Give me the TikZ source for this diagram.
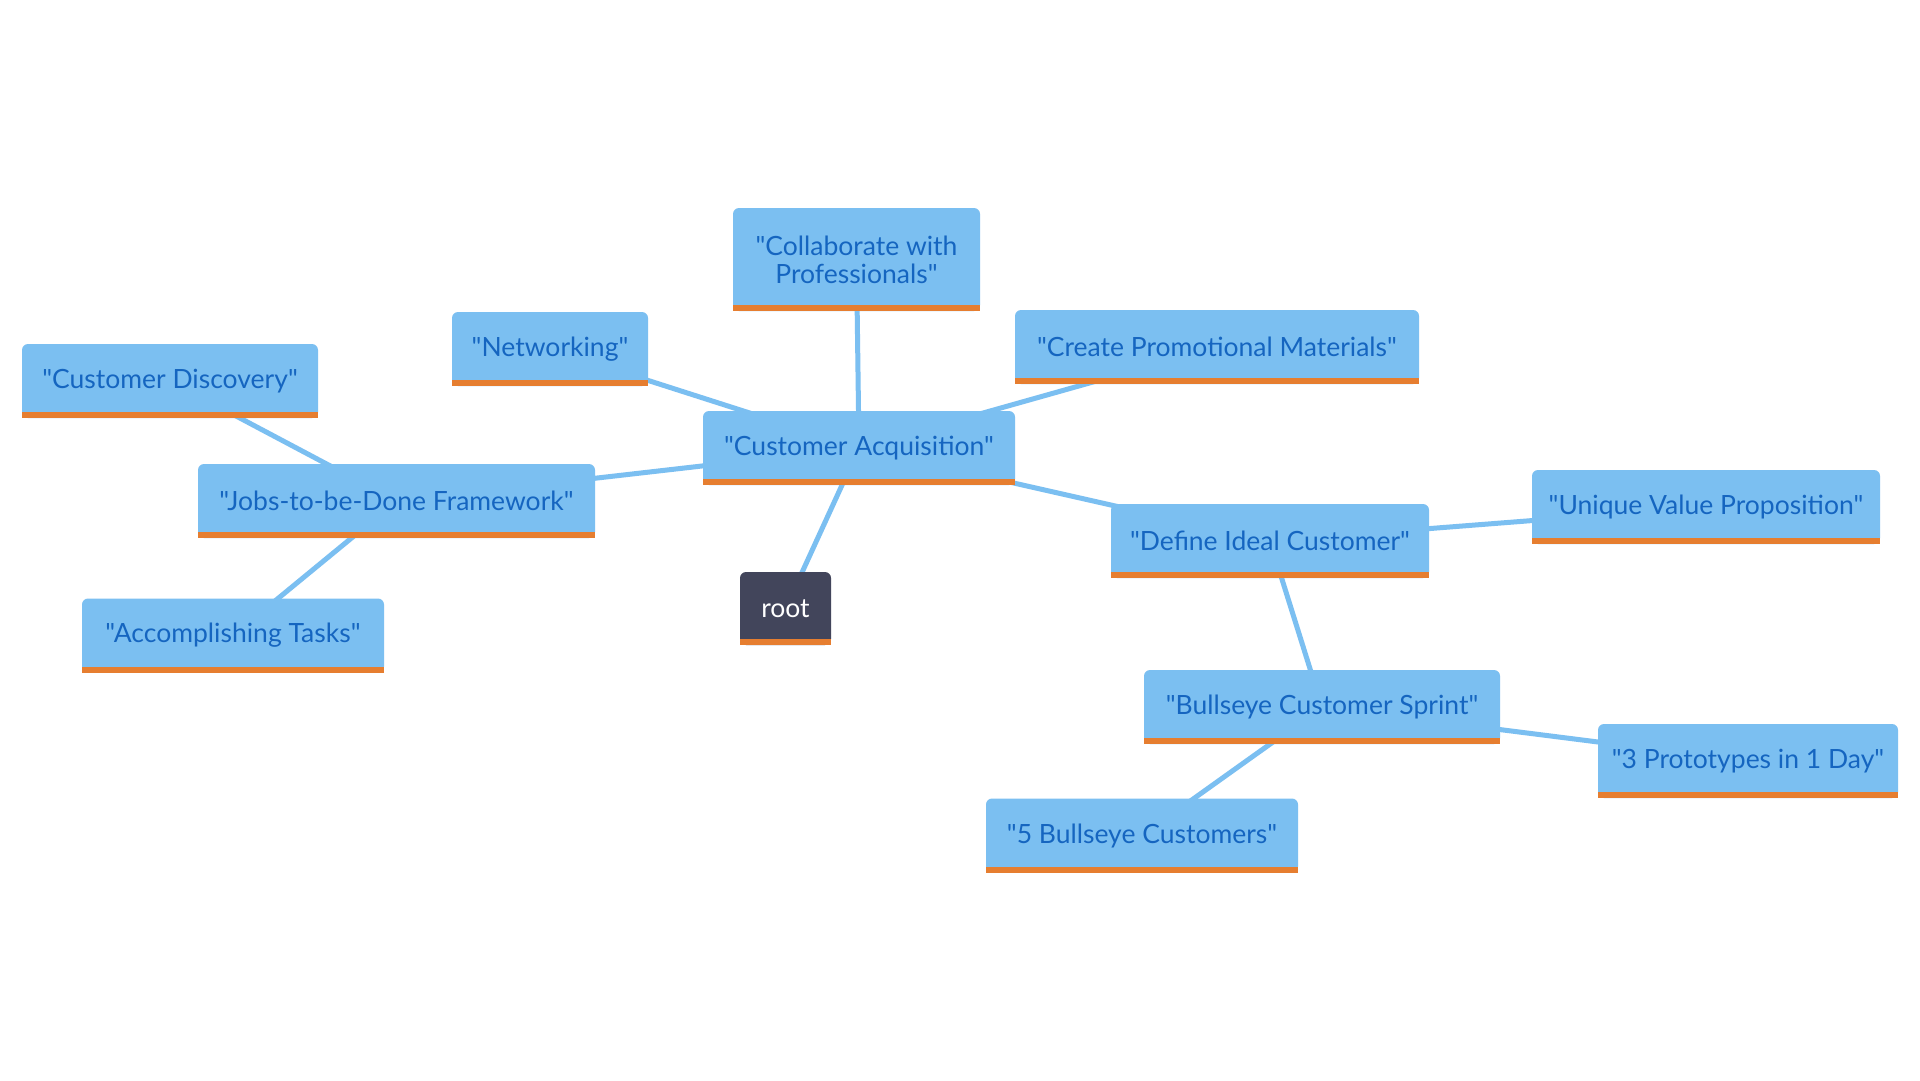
\documentclass[tikz,border=0pt]{standalone}
\usepackage{fontspec}
\setmainfont{Lato}[Ligatures=TeXOff]
\usetikzlibrary{backgrounds}
\definecolor{boxblue}{RGB}{123,191,241}
\definecolor{txtblue}{RGB}{21,101,192}
\definecolor{barorange}{RGB}{230,126,48}
\definecolor{rootgray}{RGB}{66,69,91}
\tikzset{
  box/.style={fill=boxblue, rounded corners=6pt, minimum height=74pt, text=txtblue,
    font=\fontsize{26.5}{28}\selectfont, align=center, inner sep=0pt},
  rootbox/.style={box, fill=rootgray, text=white},
  link/.style={draw=boxblue, line width=5pt},
}
\begin{document}
\begin{tikzpicture}[x=1pt,y=-1pt]
\useasboundingbox (0,0) rectangle (1920,1080);
\node[box, minimum width=312pt] (ca) at (859,448) {"Customer Acquisition"};
\node[rootbox, minimum width=91pt, minimum height=73pt] (root) at (785.5,608.5) {root};
\node[box, minimum width=247pt, minimum height=103pt] (col) at (856.5,259.5) {"Collaborate with\\Professionals"};
\node[box, minimum width=196pt] (net) at (550,349) {"Networking"};
\node[box, minimum width=404pt] (pro) at (1217,347) {"Create Promotional Materials"};
\node[box, minimum width=296pt] (disc) at (170,381) {"Customer Discovery"};
\node[box, minimum width=397pt] (jobs) at (396.5,501) {"Jobs-to-be-Done Framework"};
\node[box, minimum width=302pt] (acc) at (233,635.5) {"Accomplishing Tasks"};
\node[box, minimum width=318pt] (def) at (1270,541) {"Define Ideal Customer"};
\node[box, minimum width=348pt] (uvp) at (1706,507) {"Unique Value Proposition"};
\node[box, minimum width=356pt] (bull) at (1322,707) {"Bullseye Customer Sprint"};
\node[box, minimum width=300pt] (proto) at (1748,761) {"3 Prototypes in 1 Day"};
\node[box, minimum width=312pt] (five) at (1142,835.5) {"5 Bullseye Customers"};
\foreach \n in {ca,root,col,net,pro,disc,jobs,acc,def,uvp,bull,proto,five}
  \fill[barorange] (\n.south west) rectangle ([yshift=6pt]\n.south east);
\begin{scope}[on background layer]
\fill[white] (0,0) rectangle (1920,1080);
\draw[link] (ca.center) -- (root.center);
\draw[link] (ca.center) -- (net.center);
\draw[link] (ca.center) -- (col.center);
\draw[link] (ca.center) -- (pro.center);
\draw[link] (ca.center) -- (jobs.center);
\draw[link] (ca.center) -- (def.center);
\draw[link] (jobs.center) -- (disc.center);
\draw[link] (jobs.center) -- (acc.center);
\draw[link] (def.center) -- (uvp.center);
\draw[link] (def.center) -- (bull.center);
\draw[link] (bull.center) -- (proto.center);
\draw[link] (bull.center) -- (five.center);
\end{scope}
\end{tikzpicture}
\end{document}
